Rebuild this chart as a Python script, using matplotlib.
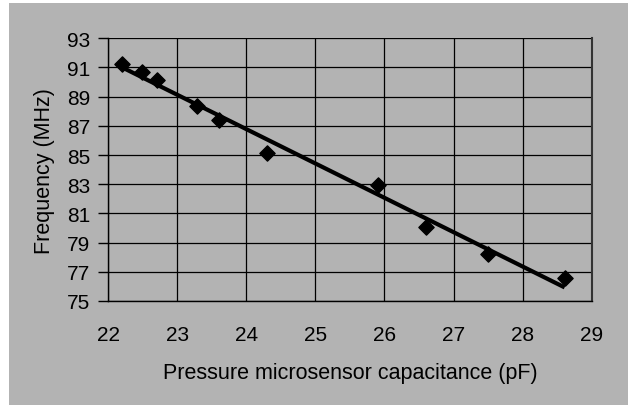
import numpy as np
import matplotlib
matplotlib.use("Agg")
import matplotlib.pyplot as plt
from matplotlib.patches import Rectangle

# capacitance (pF) vs frequency (MHz)
capacitance = [22.2, 22.49, 22.7, 23.29, 23.6, 24.3, 25.9, 26.6, 27.5, 28.61]
frequency = [91.25, 90.72, 90.17, 88.36, 87.38, 85.13, 82.94, 80.05, 78.25, 76.57]
x_ticks = [22, 23, 24, 25, 26, 27, 28, 29]
y_ticks = [75, 77, 79, 81, 83, 85, 87, 89, 91, 93]

GRAY = "#b3b3b3"

plt.rcParams["font.family"] = ["Liberation Sans", "DejaVu Sans"]

fig = plt.figure(figsize=(6.28, 4.06), dpi=100, facecolor="white")
fig.patches.append(Rectangle((9 / 628, 0), 1, 1 - 4 / 406, transform=fig.transFigure,
                             facecolor=GRAY, edgecolor="none", zorder=-10))

ax = fig.add_axes([0.1725, 0.2562, 0.7695, 0.647])
ax.set_facecolor(GRAY)

ax.scatter(capacitance, frequency, marker="D", s=60, color="black", zorder=3)

# linear trendline
slope, intercept = np.polyfit(capacitance, frequency, 1)
xs = np.array([min(capacitance), max(capacitance)])
ax.plot(xs, slope * xs + intercept, color="black", lw=3, solid_capstyle="butt", zorder=2)

ax.set_xlim(22, 29)
ax.set_ylim(75, 93)
ax.set_xticks(x_ticks)
ax.set_yticks(y_ticks)
ax.grid(True, color="black", lw=0.9)
ax.set_axisbelow(True)

ax.spines["top"].set_visible(False)
ax.spines["right"].set_color("#333333")
ax.spines["right"].set_linewidth(1.5)
ax.spines["left"].set_linewidth(1)
ax.spines["bottom"].set_linewidth(1)

ax.tick_params(axis="y", direction="out", length=7, width=1, labelsize=15, pad=6)
ax.tick_params(axis="x", length=0, labelsize=15, pad=17)

ax.set_xlabel("Pressure microsensor capacitance (pF)", fontsize=15.5, labelpad=13)
ax.set_ylabel("Frequency (MHz)", fontsize=15.5, labelpad=9)

fig.savefig("out.png", dpi=100, facecolor=fig.get_facecolor())
